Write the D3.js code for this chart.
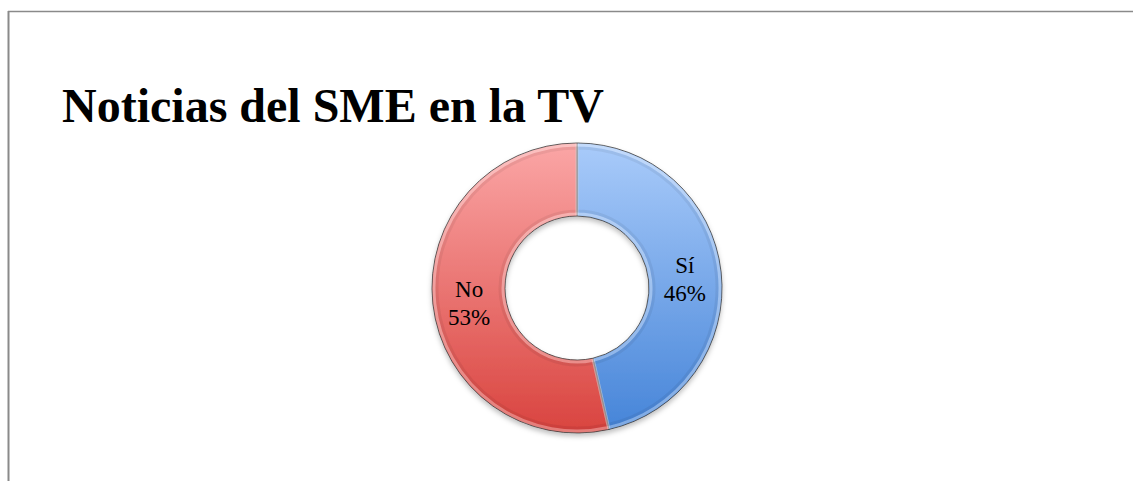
<!DOCTYPE html>
<html>
    <head>
        <title>Noticias del SME en la TV</title>
        <meta charset="utf-8"/>
        <script src="https://cdn.jsdelivr.net/npm/d3@7"></script>
        <style>
            body { margin: 0; background: #fff; }
        </style>
    </head>
    <body>
        <div id='output'></div>
        <script>
            //Chart data
            var categories = ["Sí", "No"];
            var percents = [46, 53];
            var topColors = ["#a9cbfa", "#fba6a6"];
            var bottomColors = ["#4584d8", "#d9443f"];
            var title = "Noticias del SME en la TV";

            var width = 1133, height = 481;
            var cx = 577, cy = 288,
                outerR = 145, innerR = 72;

            var svg = d3.select("#output")
                .append("svg")
                    .attr("width", width)
                    .attr("height", height);

            var defs = svg.append("defs");

            //Soft shadow under the ring
            var shadow = defs.append("filter")
                .attr("id", "shadow")
                .attr("x", "-20%").attr("y", "-20%")
                .attr("width", "140%").attr("height", "140%");
            shadow.append("feDropShadow")
                .attr("dx", 0).attr("dy", 3)
                .attr("stdDeviation", 2.5)
                .attr("flood-color", "#000")
                .attr("flood-opacity", 0.25);

            //Vertical gradient for each slice (coords relative to chart centre)
            categories.forEach(function(c, i) {
                var g = defs.append("linearGradient")
                    .attr("id", "grad" + i)
                    .attr("gradientUnits", "userSpaceOnUse")
                    .attr("x1", 0).attr("y1", -outerR)
                    .attr("x2", 0).attr("y2", outerR);
                g.append("stop").attr("offset", "0%").attr("stop-color", topColors[i]);
                g.append("stop").attr("offset", "100%").attr("stop-color", bottomColors[i]);
            });

            //Frame lines (top and left)
            svg.append("line")
                .attr("x1", 8).attr("y1", 11.5)
                .attr("x2", width).attr("y2", 11.5)
                .attr("stroke", "#8a8a8a").attr("stroke-width", 1.5);
            svg.append("line")
                .attr("x1", 8.5).attr("y1", 11)
                .attr("x2", 8.5).attr("y2", height)
                .attr("stroke", "#8a8a8a").attr("stroke-width", 2);

            //Title
            svg.append("text")
                .attr("x", 62)
                .attr("y", 122)
                .style("font-family", "'Liberation Serif', serif")
                .style("font-weight", "bold")
                .style("font-size", "48px")
                .style("fill", "#000")
                .text(title);

            var data = categories.map(function(c, i) { return {name: c, value: percents[i], idx: i}; });

            var pie = d3.pie()
                .sort(null)
                .value(function(d) { return d.value; });

            var arc = d3.arc()
                .innerRadius(innerR)
                .outerRadius(outerR);

            var arcs = pie(data);

            var chart = svg.append("g")
                .attr("transform", "translate(" + cx + "," + cy + ")");

            var ring = chart.append("g").attr("filter", "url(#shadow)");

            ring.selectAll("path.slice")
                .data(arcs)
                .enter()
                .append("path")
                    .attr("class", "slice")
                    .attr("d", arc)
                    .style("fill", function(d) { return "url(#grad" + d.data.idx + ")"; })
                    .style("stroke", "#3a3a3a")
                    .style("stroke-width", 0.8);

            //Bevel: light rim just inside the edges, darker band next to it
            var bevel = d3.arc()
                .innerRadius(innerR + 2)
                .outerRadius(outerR - 2);
            ring.selectAll("path.bevel")
                .data(arcs)
                .enter()
                .append("path")
                    .attr("class", "bevel")
                    .attr("d", bevel)
                    .style("fill", "none")
                    .style("stroke", "#fff")
                    .style("stroke-opacity", 0.3)
                    .style("stroke-width", 3);
            var shade = d3.arc()
                .innerRadius(innerR + 5)
                .outerRadius(outerR - 5);
            ring.selectAll("path.shade")
                .data(arcs)
                .enter()
                .append("path")
                    .attr("class", "shade")
                    .attr("d", shade)
                    .style("fill", "none")
                    .style("stroke", "#000")
                    .style("stroke-opacity", 0.06)
                    .style("stroke-width", 3);

            //Labels at slice centroids
            var labels = chart.selectAll("text.lbl")
                .data(arcs)
                .enter()
                .append("text")
                    .attr("class", "lbl")
                    .attr("transform", function(d) { return "translate(" + arc.centroid(d) + ")"; })
                    .attr("text-anchor", "middle")
                    .style("font-family", "'Liberation Serif', serif")
                    .style("font-size", "23px")
                    .style("fill", "#000");
            labels.append("tspan")
                .attr("x", 0).attr("y", -3)
                .text(function(d) { return d.data.name; });
            labels.append("tspan")
                .attr("x", 0).attr("y", 25)
                .text(function(d) { return d.data.value + "%"; });
        </script>
    </body>
</html>
